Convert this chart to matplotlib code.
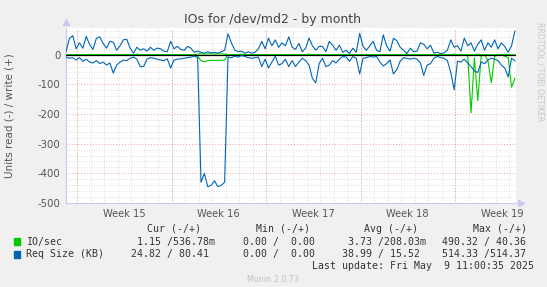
import matplotlib
matplotlib.use("Agg")
import matplotlib.pyplot as plt
import numpy as np

plt.rcParams["axes.unicode_minus"] = False
plt.rcParams["font.family"] = "DejaVu Sans"

# samples every 6 hours (0.25 day), 134 points over the month
STEP = 0.25
req_write = [10, 55, 64, 20, 40, 22, 62, 34, 18, 55, 60, 38, 22, 45, 42, 15, 30, 50, 52, 22, 5, 25, 15,
             20, 12, 25, 15, 22, 20, 12, 10, 45, 20, 28, 18, 15, 28, 22, 8, 12,
             8, 5, 10, 6, 8, 5, 10, 15,
             70, 40, 15, 10, 12, 5, 10, 5, 8, 20, 45, 20, 56, 30, 50, 25, 40, 30, 60,
             25, 18, 38, 10, 22, 56, 30, 15, 28, 28, 10, 45, 32, 15, 32, 8, 15, 5, 22, 8, 72, 28,
             15, 30, 45, 15, 10, 67, 30, 12, 55, 48, 25, 15, 4, 22, 10, 12, 40, 35, 20, 32, 5, 8,
             4, 6, 15, 50, 25, 30, 12, 56, 30, 40, 12, 35, 50, 15, 40, 25, 50, 20, 40, 28, 8, 30, 80]
req_read = [8, 12, 10, 18, 10, 22, 15, 25, 28, 20, 30, 25, 35, 28, 62, 35, 25, 18, 20, 12, 8, 15, 40,
            40, 15, 10, 12, 15, 18, 20, 14, 45, 18, 15, 14, 12, 10, 8, 5, 10,
            430, 400, 445, 440, 425, 445, 440, 430,
            8, 10, 5, 8, 3, 6, 10, 12, 10, 8, 40, 15, 45, 25, 5, 35, 30, 15, 40,
            20, 40, 25, 12, 20, 35, 80, 95, 30, 12, 40, 35, 20, 28, 15, 6, 8, 22, 6, 12, 65, 12,
            10, 6, 8, 6, 25, 38, 30, 18, 65, 50, 22, 10, 12, 15, 12, 15, 28, 70, 35, 30, 12, 6,
            10, 12, 20, 60, 118, 22, 25, 15, 28, 40, 55, 60, 25, 30, 18, 12, 15, 20, 35, 45, 75, 12, 20]
io_write = [0, 0, 0, 0, 0, 0, 0, 1, 0, 0, 0, 0, 0, 0, 0, 0, 0, 0, 0, 0,
            0, 2, 0, 0, 0, 0, 0, 0, 0, 0, 0, 0, 0, 0, 0, 0, 0, 0, 0, 2,
            3, 2, 3, 3, 2, 3, 3, 2, 0, 0, 0, 0, 2, 0, 0, 0, 0, 0, 0, 0,
            0, 0, 0, 0, 0, 0, 0, 0, 0, 0, 0, 0, 2, 0, 0, 0, 0, 0, 0, 0,
            0, 0, 0, 0, 2, 0, 0, 0, 0, 0, 0, 0, 0, 0, 0, 0, 0, 0, 0, 0,
            0, 2, 0, 0, 0, 0, 0, 0, 0, 0, 0, 0, 0, 0, 0, 2, 0, 0, 0, 0,
            0, 0, 2, 0, 0, 0, 0, 0, 0, 0, 2, 0, 0, 0]
io_read = [0, 0, 0, 0, 0, 0, 0, 0, 0, 0, 0, 0, 0, 0, 0, 0, 0, 0, 0, 0,
           0, 0, 0, 0, 0, 0, 0, 0, 0, 0, 0, 0, 0, 0, 0, 0, 0, 0, 0, 5,
           20, 24, 20, 19, 19, 19, 19, 18, 0, 0, 0, 0, 0, 0, 0, 0, 0, 0, 0, 0,
           0, 0, 0, 0, 0, 0, 0, 0, 0, 0, 0, 0, 0, 0, 0, 0, 0, 0, 0, 0,
           0, 0, 0, 0, 0, 0, 0, 0, 0, 0, 0, 0, 0, 0, 0, 0, 0, 0, 0, 0,
           0, 0, 0, 0, 0, 0, 0, 0, 0, 0, 0, 0, 0, 0, 0, 0, 0, 0, 0, 0,
           196, 10, 155, 5, 0, 20, 95, 5, 0, 0, 5, 10, 110, 80]

week_labels = ["Week 15", "Week 16", "Week 17", "Week 18", "Week 19"]
first_week = 0.815   # day offset of the first monday in view
x_end = 33.33
y_min, y_max = -500, 90

legend_rows = [
    ("IO/sec", "#00CC00", "  1.15 /536.78m", "  0.00 /  0.00", "  3.73 /208.03m", "490.32 / 40.36"),
    ("Req Size (KB)", "#0066B3", " 24.82 / 80.41", "  0.00 /  0.00", " 38.99 / 15.52", "514.33 /514.37"),
]

W, H = 547, 287
fig = plt.figure(figsize=(W / 100, H / 100), dpi=100, facecolor="#F0F0F0")
ax = fig.add_axes([66 / W, 1 - 203 / H, 450 / W, 175 / H])
ax.set_facecolor("white")

t = np.arange(len(req_write)) * STEP

# grid
for d in np.arange(first_week - 1, x_end, 1.0):
    if d > 0:
        ax.axvline(d, color="#D4D4D4", lw=0.6, ls=(0, (1, 2)), zorder=0)
for k in range(len(week_labels)):
    ax.axvline(first_week + 7 * k, color="#E8A0A0", lw=0.7, ls=(0, (1, 2)), zorder=0.5)
for v in range(y_min + 20, y_max, 20):
    if v % 100 != 0:
        ax.axhline(v, color="#D4D4D4", lw=0.6, ls=(0, (1, 2)), zorder=0)
for v in range(y_min, 0, 100):
    ax.axhline(v, color="#E8A0A0", lw=0.7, ls=(0, (1, 2)), zorder=0.5)

ax.plot(t, io_write, color="#00CC00", lw=0.8, zorder=2)
ax.plot(t, -np.array(io_read), color="#00CC00", lw=0.8, zorder=2)
ax.axhline(0, color="black", lw=0.9, zorder=3)
ax.plot(t, req_write, color="#0066B3", lw=0.8, zorder=4)
ax.plot(t, -np.array(req_read), color="#0066B3", lw=0.8, zorder=4)

ax.set_xlim(0, x_end)
ax.set_ylim(y_min, y_max)

ax.set_yticks(range(y_min, 1, 100))
ax.tick_params(axis="y", length=0, labelsize=7.3, labelcolor="#555555", pad=4)
ax.set_xticks([first_week + 7 * k + 3.5 for k in range(len(week_labels))])
ax.set_xticklabels(week_labels)
ax.tick_params(axis="x", length=0, labelsize=7.1, labelcolor="#555555", pad=4)

for s in ["top", "right"]:
    ax.spines[s].set_visible(False)
for s in ["left", "bottom"]:
    ax.spines[s].set_color("#C8C8F0")
    ax.spines[s].set_linewidth(0.8)
ax.plot([0], [1.035], marker="^", color="#C8C8F0", ms=5, transform=ax.transAxes, clip_on=False)
ax.plot([1.012], [0], marker=">", color="#C8C8F0", ms=5, transform=ax.transAxes, clip_on=False)

fig.text(273 / W, 1 - 20 / H, "IOs for /dev/md2 - by month", ha="center", va="center",
         fontsize=9, color="#444444")
fig.text(10 / W, 1 - 116 / H, "Units read (-) / write (+)", ha="center", va="center",
         rotation=90, fontsize=7.5, color="#555555")
fig.text(540 / W, 1 - 22 / H, "RRDTOOL / TOBI OETIKER", ha="center", va="top",
         rotation=270, fontsize=5.6, color="#C8C8C8")

mono = dict(family="DejaVu Sans Mono", fontsize=7.1, color="#333333", va="center")
head_y = 228.6
for x, h in zip([147, 256, 364, 473], ["Cur (-/+)", "Min (-/+)", "Avg (-/+)", "Max (-/+)"]):
    fig.text(x / W, 1 - head_y / H, h, **mono)
for r, (name, col, cur, mn, avg, mx) in enumerate(legend_rows):
    y = 241.9 + r * 12.5
    fig.patches.append(plt.Rectangle((13.5 / W, 1 - (y + 3.5) / H), 6 / W, 7 / H,
                                     transform=fig.transFigure, color=col))
    fig.text(26 / W, 1 - y / H, name, **mono)
    fig.text(125 / W, 1 - y / H, cur, **mono)
    fig.text(231 / W, 1 - y / H, mn, **mono)
    fig.text(336 / W, 1 - y / H, avg, **mono)
    fig.text(442 / W, 1 - y / H, mx, **mono)
fig.text(312 / W, 1 - 266.3 / H, "Last update: Fri May  9 11:00:35 2025", **mono)
fig.text(273 / W, 1 - 279.5 / H, "Munin 2.0.73", ha="center", va="center",
         fontsize=5.8, color="#C0C0C0")

fig.savefig("out.png", dpi=100, facecolor=fig.get_facecolor())
